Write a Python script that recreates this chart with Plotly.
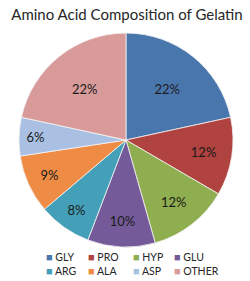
import plotly.graph_objects as go

# ---- data ----
categories = ["GLY", "PRO", "HYP", "GLU", "ARG", "ALA", "ASP", "OTHER"]
values = [21.6, 11.8, 12.2, 10.2, 8.0, 8.8, 5.8, 21.6]
colors = ["#4A76AE", "#B0423F", "#8FAE4F", "#745A99", "#43A0B8",
          "#EE8C45", "#A9C0E3", "#D99B9A"]
title_text = "Amino Acid Composition of Gelatin"

W, H = 250, 281
FONT = "Lato"

fig = go.Figure()
fig.add_trace(go.Pie(
    labels=categories,
    values=values,
    sort=False,
    direction="clockwise",
    rotation=0,
    marker=dict(colors=colors, line=dict(color="#F4F4F4", width=0.8)),
    texttemplate="%{percent:.0%}",
    textposition="inside",
    insidetextorientation="horizontal",
    textfont=dict(family=FONT, size=13, color="#1A1A1A"),
    showlegend=False,
    hoverinfo="label+percent",
    domain=dict(x=[19 / W, 233 / W], y=[1 - 247 / H, 1 - 33 / H]),
))

# custom compact legend (2 rows x 4 columns)
col_x = [45, 87, 132, 173]
row_y = [256.5, 270.5]
annotations = []
for i, (cat, col) in enumerate(zip(categories, colors)):
    r, c = divmod(i, 4)
    annotations.append(dict(
        x=col_x[c] / W, y=1 - row_y[r] / H, xref="paper", yref="paper",
        xanchor="left", yanchor="middle", showarrow=False, borderpad=0,
        text=f"<span style='color:{col};font-size:11px'>■</span> {cat}",
        font=dict(family=FONT, size=10.5, color="#262626"),
    ))

fig.update_layout(
    width=W, height=H,
    margin=dict(l=0, r=0, t=0, b=0),
    paper_bgcolor="white", plot_bgcolor="white",
    title=dict(text=title_text, x=127 / W, xanchor="center",
               y=1 - 15 / H, yanchor="middle",
               font=dict(family=FONT, size=15, color="#262626")),
    annotations=annotations,
    showlegend=False,
)

fig.write_html("out.html")
